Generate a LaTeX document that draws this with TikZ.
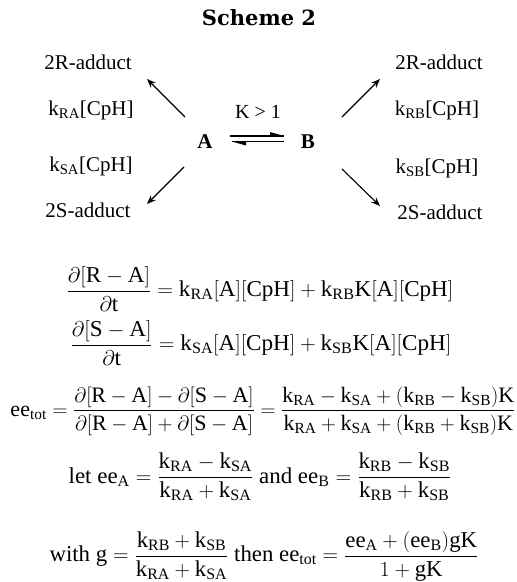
\documentclass[tikz,border=0pt]{standalone}
\usepackage{fontspec}
\setmainfont{Liberation Serif}
\newfontfamily\titlefont{DejaVu Serif}
\usepackage{amsmath}
\usetikzlibrary{arrows.meta}
\begin{document}
\begin{tikzpicture}[x=1pt,y=1pt,
  lbl/.style={inner sep=0pt,font=\fontsize{21}{24}\selectfont},
  eqn/.style={inner sep=0pt,font=\fontsize{22}{26}\selectfont},
  rxn/.style={line width=1.1pt,-{Stealth[length=9pt,width=7pt]}},
  eqline/.style={line width=1.1pt}]
\useasboundingbox (0,0) rectangle (517,-582);
\node[inner sep=0pt,font=\fontsize{21}{24}\titlefont\bfseries] (title) at (259,-18) {Scheme 2};
% left side
\node[lbl] (r2a) at (88,-62) {2R-adduct};
\node[lbl] (kra) at (91,-110) {$\mathrm{k_{RA}}$[CpH]};
\node[lbl] (ksa) at (91,-166) {$\mathrm{k_{SA}}$[CpH]};
\node[lbl] (s2a) at (88,-210) {2S-adduct};
% right side
\node[lbl] (r2b) at (439,-62) {2R-adduct};
\node[lbl] (krb) at (437,-110) {$\mathrm{k_{RB}}$[CpH]};
\node[lbl] (ksb) at (437,-168) {$\mathrm{k_{SB}}$[CpH]};
\node[lbl] (s2b) at (440,-212) {2S-adduct};
% center
\node[lbl,font=\fontsize{21}{24}\selectfont\bfseries] (A) at (205,-142) {A};
\node[lbl,font=\fontsize{21}{24}\selectfont\bfseries] (B) at (308,-142) {B};
\node[lbl,font=\fontsize{20}{24}\selectfont] (K) at (258,-112) {K > 1};
% arrow ends
\coordinate (a1s) at (185,-117); \coordinate (a1e) at (147,-79);
\coordinate (a2s) at (184,-167); \coordinate (a2e) at (147,-204);
\coordinate (b1s) at (342,-117); \coordinate (b1e) at (380,-79);
\coordinate (b2s) at (342,-169); \coordinate (b2e) at (380,-206);
\draw[rxn] (a1s) -- (a1e);
\draw[rxn] (a2s) -- (a2e);
\draw[rxn] (b1s) -- (b1e);
\draw[rxn] (b2s) -- (b2e);
% equilibrium half arrows
\coordinate (e1s) at (230,-136); \coordinate (e1e) at (284,-136);
\coordinate (e2s) at (284,-141.5); \coordinate (e2e) at (232,-141.5);
\draw[eqline] (e1s) -- (e1e);
\draw[eqline] (e2s) -- (e2e);
\fill (e1e) -- ++(-14,4) -- ++(0,-4) -- cycle;
\fill (e2e) -- ++(14,-4) -- ++(0,4) -- cycle;
% equations
\node[eqn] (eq1) at (260,-289) {\scalebox{1.05}[1.03]{$\dfrac{\partial[\mathrm{R}-\mathrm{A}]}{\partial\mathrm{t}} = \mathrm{k_{RA}[A][CpH]} + \mathrm{k_{RB}K[A][CpH]}$}};
\node[eqn] (eq2) at (261,-343) {\scalebox{1.05}[1.03]{$\dfrac{\partial[\mathrm{S}-\mathrm{A}]}{\partial\mathrm{t}} = \mathrm{k_{SA}[A][CpH]} + \mathrm{k_{SB}K[A][CpH]}$}};
\node[eqn] (eq3) at (263,-411) {$\mathrm{ee_{tot}} = \dfrac{\partial[\mathrm{R}-\mathrm{A}]-\partial[\mathrm{S}-\mathrm{A}]}{\partial[\mathrm{R}-\mathrm{A}]+\partial[\mathrm{S}-\mathrm{A}]} = \dfrac{\mathrm{k_{RA}}-\mathrm{k_{SA}}+(\mathrm{k_{RB}}-\mathrm{k_{SB}})\mathrm{K}}{\mathrm{k_{RA}}+\mathrm{k_{SA}}+(\mathrm{k_{RB}}+\mathrm{k_{SB}})\mathrm{K}}$};
\node[eqn] (eq4) at (260,-477) {\scalebox{1.044}[1.03]{let $\mathrm{ee_{A}} = \dfrac{\mathrm{k_{RA}}-\mathrm{k_{SA}}}{\mathrm{k_{RA}}+\mathrm{k_{SA}}}$ and $\mathrm{ee_{B}} = \dfrac{\mathrm{k_{RB}}-\mathrm{k_{SB}}}{\mathrm{k_{RB}}+\mathrm{k_{SB}}}$}};
\node[eqn] (eq5) at (264,-556) {\scalebox{1.036}[1.03]{with $\mathrm{g} = \dfrac{\mathrm{k_{RB}}+\mathrm{k_{SB}}}{\mathrm{k_{RA}}+\mathrm{k_{SA}}}$ then $\mathrm{ee_{tot}} = \dfrac{\mathrm{ee_{A}}+(\mathrm{ee_{B}})\mathrm{gK}}{1+\mathrm{gK}}$}};
\end{tikzpicture}
\end{document}
